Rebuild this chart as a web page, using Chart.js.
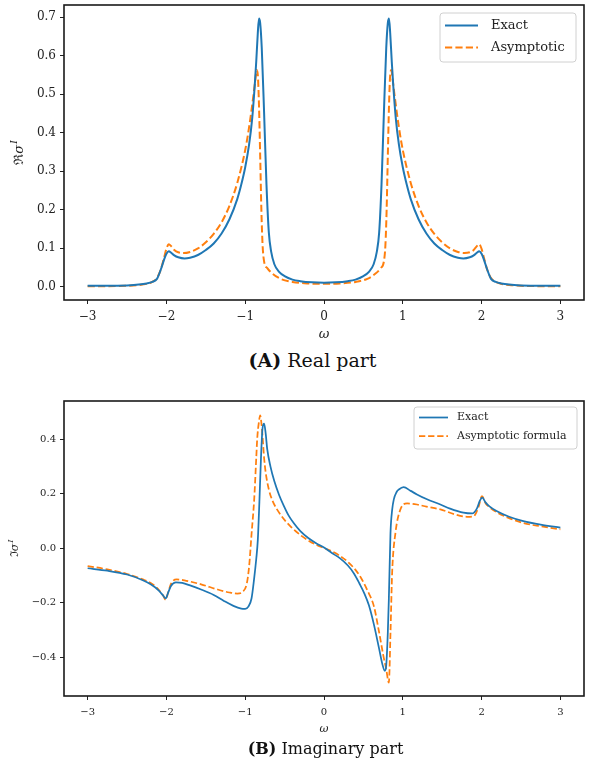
<!DOCTYPE html>
<html>
<head>
<meta charset="utf-8">
<script src="https://cdn.jsdelivr.net/npm/chart.js@4.4.1/dist/chart.umd.min.js"></script>
<style>
  body { margin: 0; background: #fff; width: 589px; height: 766px; position: relative; overflow: hidden; }
  .box { position: absolute; left: 0; width: 589px; }
  .cap { position: absolute; width: 589px; text-align: center; font-family: "DejaVu Serif", serif; color: #111; }
  .cap b { font-weight: bold; }
</style>
</head>
<body>
<div class="box" style="top:0; height:345px;"><canvas id="realChart"></canvas></div>
<div class="cap" style="top:349px; left:18px; font-size:19px;"><b>(A)</b> Real part</div>
<div class="box" style="top:396px; height:345px;"><canvas id="imagChart"></canvas></div>
<div class="cap" style="top:739px; left:31px; font-size:16px;"><b>(B)</b> Imaginary part</div>
<script>
// ---- data ----
const xTicks = [-3, -2, -1, 0, 1, 2, 3];
const realTicks = [0, 0.1, 0.2, 0.3, 0.4, 0.5, 0.6, 0.7];
const imagTicks = [-0.4, -0.2, 0, 0.2, 0.4];

// real part, exact
const realOmegaExact = [-3.0, -2.75, -2.5, -2.35, -2.25, -2.18, -2.12, -2.07, -2.03, -2.0, -1.97, -1.94, -1.9, -1.85, -1.77, -1.7, -1.6, -1.5, -1.4, -1.3, -1.2, -1.1, -1.05, -1.0, -0.95, -0.91, -0.88, -0.86, -0.84, -0.825, -0.81, -0.79, -0.76, -0.73, -0.70, -0.67, -0.63, -0.57, -0.5, -0.4, -0.3, -0.15, 0,
  0.15, 0.3, 0.4, 0.5, 0.57, 0.63, 0.67, 0.70, 0.73, 0.76, 0.79, 0.81, 0.825, 0.84, 0.86, 0.88, 0.91, 0.95, 1.0, 1.05, 1.1, 1.2, 1.3, 1.4, 1.5, 1.6, 1.7, 1.77, 1.85, 1.9, 1.94, 1.97, 2.0, 2.03, 2.07, 2.12, 2.18, 2.25, 2.35, 2.5, 2.75, 3.0];
const realExact = [0.002, 0.002, 0.003, 0.005, 0.008, 0.012, 0.02, 0.045, 0.07, 0.085, 0.092, 0.088, 0.081, 0.076, 0.073, 0.075, 0.082, 0.095, 0.112, 0.138, 0.175, 0.228, 0.265, 0.31, 0.37, 0.44, 0.52, 0.585, 0.66, 0.697, 0.685, 0.62, 0.45, 0.265, 0.14, 0.09, 0.058, 0.038, 0.027, 0.018, 0.014, 0.011, 0.010,
  0.011, 0.014, 0.018, 0.027, 0.038, 0.058, 0.09, 0.14, 0.265, 0.45, 0.62, 0.685, 0.697, 0.66, 0.585, 0.52, 0.44, 0.37, 0.31, 0.265, 0.228, 0.175, 0.138, 0.112, 0.095, 0.082, 0.075, 0.073, 0.076, 0.081, 0.088, 0.092, 0.085, 0.07, 0.045, 0.02, 0.012, 0.008, 0.005, 0.003, 0.002, 0.002];

// real part, asymptotic
const realOmegaAsym = [-3.0, -2.75, -2.5, -2.35, -2.25, -2.18, -2.12, -2.07, -2.03, -2.0, -1.97, -1.94, -1.9, -1.85, -1.78, -1.7, -1.6, -1.5, -1.4, -1.3, -1.2, -1.1, -1.0, -0.95, -0.9, -0.87, -0.855, -0.84, -0.825, -0.81, -0.795, -0.78, -0.76, -0.72, -0.65, -0.55, -0.4, -0.2, 0,
  0.2, 0.4, 0.55, 0.65, 0.72, 0.76, 0.78, 0.795, 0.81, 0.825, 0.84, 0.855, 0.87, 0.9, 0.95, 1.0, 1.1, 1.2, 1.3, 1.4, 1.5, 1.6, 1.7, 1.78, 1.85, 1.9, 1.94, 1.97, 2.0, 2.03, 2.07, 2.12, 2.18, 2.25, 2.35, 2.5, 2.75, 3.0];
const realAsym = [0.001, 0.001, 0.002, 0.004, 0.007, 0.012, 0.022, 0.045, 0.075, 0.098, 0.11, 0.105, 0.095, 0.089, 0.087, 0.09, 0.099, 0.115, 0.137, 0.167, 0.21, 0.27, 0.355, 0.415, 0.49, 0.54, 0.563, 0.55, 0.47, 0.34, 0.2, 0.11, 0.065, 0.048, 0.033, 0.02, 0.012, 0.008, 0.007,
  0.008, 0.012, 0.02, 0.033, 0.048, 0.065, 0.11, 0.2, 0.34, 0.47, 0.55, 0.563, 0.54, 0.49, 0.415, 0.355, 0.27, 0.21, 0.167, 0.137, 0.115, 0.099, 0.09, 0.087, 0.089, 0.095, 0.105, 0.11, 0.098, 0.075, 0.045, 0.022, 0.012, 0.007, 0.004, 0.002, 0.001, 0.001];

// imaginary part, exact
const imagOmegaExact = [-3.0, -2.75, -2.5, -2.3, -2.2, -2.1, -2.04, -2.01, -1.98, -1.94, -1.88, -1.8, -1.7, -1.56, -1.4, -1.27, -1.15, -1.05, -1.0, -0.96, -0.92, -0.89, -0.86, -0.84, -0.82, -0.80, -0.78, -0.76, -0.74, -0.72, -0.68, -0.63, -0.57, -0.51, -0.45, -0.38, -0.3, -0.2, -0.1, 0,
  0.1, 0.2, 0.3, 0.38, 0.45, 0.51, 0.57, 0.633, 0.70, 0.74, 0.772, 0.79, 0.81, 0.823, 0.844, 0.865, 0.886, 0.92, 0.95, 1.01, 1.1, 1.18, 1.3, 1.477, 1.6, 1.77, 1.88, 1.94, 1.98, 2.01, 2.05, 2.1, 2.19, 2.35, 2.53, 2.75, 3.0];
const imagExact = [-0.074, -0.083, -0.097, -0.118, -0.133, -0.155, -0.175, -0.185, -0.165, -0.138, -0.126, -0.128, -0.137, -0.152, -0.172, -0.194, -0.212, -0.222, -0.223, -0.215, -0.185, -0.12, -0.04, 0.03, 0.17, 0.33, 0.44, 0.457, 0.42, 0.362, 0.30, 0.245, 0.195, 0.155, 0.12, 0.09, 0.062, 0.037, 0.018, 0.002,
  -0.018, -0.037, -0.063, -0.093, -0.13, -0.165, -0.21, -0.28, -0.37, -0.425, -0.451, -0.43, -0.31, -0.188, 0.056, 0.14, 0.179, 0.205, 0.215, 0.224, 0.21, 0.197, 0.18, 0.16, 0.145, 0.13, 0.127, 0.145, 0.175, 0.185, 0.168, 0.153, 0.136, 0.115, 0.099, 0.086, 0.075];

// imaginary part, asymptotic formula
const imagOmegaAsym = [-3.0, -2.75, -2.5, -2.3, -2.19, -2.1, -2.04, -2.01, -1.98, -1.94, -1.87, -1.75, -1.56, -1.35, -1.2, -1.1, -1.03, -0.98, -0.95, -0.92, -0.886, -0.86, -0.848, -0.825, -0.81, -0.795, -0.78, -0.76, -0.74, -0.70, -0.655, -0.55, -0.42, -0.3, -0.2, -0.1, 0,
  0.1, 0.2, 0.3, 0.4, 0.465, 0.55, 0.633, 0.70, 0.75, 0.79, 0.823, 0.844, 0.865, 0.907, 0.97, 1.055, 1.18, 1.3, 1.477, 1.65, 1.815, 1.9, 1.96, 2.005, 2.05, 2.1, 2.19, 2.35, 2.53, 2.75, 3.0];
const imagAsym = [-0.066, -0.078, -0.095, -0.115, -0.13, -0.152, -0.175, -0.19, -0.165, -0.13, -0.115, -0.12, -0.133, -0.152, -0.163, -0.167, -0.16, -0.13, -0.066, 0.05, 0.179, 0.33, 0.40, 0.465, 0.487, 0.46, 0.41, 0.33, 0.277, 0.215, 0.175, 0.122, 0.078, 0.048, 0.028, 0.012, 0.0,
  -0.012, -0.028, -0.05, -0.08, -0.107, -0.155, -0.213, -0.31, -0.39, -0.445, -0.494, -0.31, -0.09, 0.056, 0.142, 0.164, 0.16, 0.152, 0.142, 0.125, 0.115, 0.117, 0.15, 0.191, 0.165, 0.15, 0.132, 0.11, 0.092, 0.08, 0.069];

const BLUE = '#1f77b4';
const ORANGE = '#ff7f0e';
const FONT = '"DejaVu Serif", serif';

function pts(xs, ys) {
  return xs.map((x, i) => ({ x: x, y: ys[i] }));
}

function fmtMinus(v, digits) {
  const s = Math.abs(v).toFixed(digits);
  return (v < -1e-9 ? '\u2212' : '') + s;
}

// frame, legend and axis titles
const decor = {
  id: 'decor',
  afterDraw(chart, args, o) {
    const ctx = chart.ctx;
    const a = chart.chartArea;
    ctx.save();

    // legend box
    const lw = o.legendW, lh = o.legendH;
    const lx = a.right - o.legendRight - lw;
    const ly = a.top + o.legendTop;
    ctx.beginPath();
    ctx.roundRect(lx, ly, lw, lh, 3);
    ctx.fillStyle = 'rgba(255,255,255,0.8)';
    ctx.fill();
    ctx.strokeStyle = '#d0d0d0';
    ctx.lineWidth = 1;
    ctx.stroke();
    chart.data.datasets.forEach((ds, i) => {
      const y = ly + o.rowFirst + i * o.rowGap;
      ctx.beginPath();
      ctx.setLineDash(ds.borderDash || []);
      ctx.strokeStyle = ds.borderColor;
      ctx.lineWidth = ds.borderWidth;
      ctx.moveTo(lx + 5, y);
      ctx.lineTo(lx + 5 + o.sampleW, y);
      ctx.stroke();
      ctx.setLineDash([]);
      ctx.fillStyle = '#222';
      ctx.font = o.legendSize + 'px ' + FONT;
      ctx.textBaseline = 'middle';
      ctx.textAlign = 'left';
      ctx.fillText(ds.label, lx + o.textOff, y);
    });

    // frame
    ctx.strokeStyle = '#1a1a1a';
    ctx.lineWidth = 1.6;
    ctx.strokeRect(a.left, a.top, a.right - a.left, a.bottom - a.top);

    // x title
    ctx.fillStyle = '#222';
    ctx.font = 'italic ' + o.titleSize + 'px ' + FONT;
    ctx.textAlign = 'center';
    ctx.textBaseline = 'middle';
    ctx.fillText('\u03c9', (a.left + a.right) / 2, o.xTitleY);

    // y title, rotated: symbol + sigma + superscript I
    ctx.translate(o.yTitleX, (a.top + a.bottom) / 2 + o.yTitleShift);
    ctx.rotate(-Math.PI / 2);
    ctx.textAlign = 'left';
    const f1 = o.titleSize + 'px ' + FONT;
    const f2 = 'italic ' + o.titleSize + 'px ' + FONT;
    const f3 = 'italic ' + Math.round(o.titleSize * 0.7) + 'px ' + FONT;
    ctx.font = f1; const w1 = ctx.measureText(o.yTitle).width;
    ctx.font = f2; const w2 = ctx.measureText('\u03c3').width;
    ctx.font = f3; const w3 = ctx.measureText('I').width;
    let x0 = -(w1 + w2 + w3 + 1) / 2;
    ctx.font = f1; ctx.fillText(o.yTitle, x0, 0);
    ctx.font = f2; ctx.fillText('\u03c3', x0 + w1, 0);
    ctx.font = f3; ctx.fillText('I', x0 + w1 + w2 + 1, -o.titleSize * 0.4);
    ctx.restore();
  }
};

function makeChart(id, cfg) {
  return new Chart(document.getElementById(id), {
    type: 'line',
    data: {
      datasets: [
        { label: 'Exact', data: pts(cfg.xe, cfg.ye), borderColor: BLUE, borderWidth: cfg.lw,
          pointRadius: 0, fill: false, cubicInterpolationMode: 'monotone' },
        { label: cfg.asymLabel, data: pts(cfg.xa, cfg.ya), borderColor: ORANGE, borderWidth: cfg.lw,
          borderDash: [cfg.lw * 3.6, cfg.lw * 1.6], pointRadius: 0, fill: false, cubicInterpolationMode: 'monotone' }
      ]
    },
    options: {
      responsive: true,
      maintainAspectRatio: false,
      animation: false,
      layout: { padding: { top: cfg.padTop, right: 5, left: 0, bottom: 0 } },
      plugins: {
        legend: { display: false },
        tooltip: { enabled: false },
        decor: cfg.decor
      },
      scales: {
        x: {
          type: 'linear', min: -3.3, max: 3.3,
          afterBuildTicks: s => { s.ticks = xTicks.map(v => ({ value: v })); },
          afterFit: s => { s.height = cfg.xAxisH; s.paddingLeft = 0; s.paddingRight = 0; },
          grid: { drawOnChartArea: false, drawTicks: true, tickLength: 4, color: '#222', lineWidth: 1 },
          border: { display: false },
          ticks: { padding: cfg.xPad, color: '#222', font: { family: FONT, size: cfg.tickSize },
                   maxRotation: 0, callback: v => fmtMinus(v, 0) }
        },
        y: {
          type: 'linear', min: cfg.ymin, max: cfg.ymax,
          afterBuildTicks: s => { s.ticks = cfg.yTicks.map(v => ({ value: v })); },
          afterFit: s => { s.width = 64; s.paddingTop = 0; s.paddingBottom = 0; },
          grid: { drawOnChartArea: false, drawTicks: true, tickLength: 4, color: '#222', lineWidth: 1 },
          border: { display: false },
          ticks: { padding: 4, color: '#222', font: { family: FONT, size: cfg.tickSize },
                   callback: v => fmtMinus(v, 1) }
        }
      }
    },
    plugins: [decor]
  });
}

makeChart('realChart', {
  xe: realOmegaExact, ye: realExact, xa: realOmegaAsym, ya: realAsym,
  asymLabel: 'Asymptotic', lw: 2, padTop: 5, xAxisH: 45, xPad: 6, tickSize: 12,
  ymin: -0.035, ymax: 0.732, yTicks: realTicks,
  decor: { legendW: 136, legendH: 49, legendRight: 8, legendTop: 8, rowFirst: 12.5, rowGap: 22,
           sampleW: 33, textOff: 51, legendSize: 13, titleSize: 13, xTitleY: 335,
           yTitleX: 20, yTitleShift: 0, yTitle: '\u211c' }
});

makeChart('imagChart', {
  xe: imagOmegaExact, ye: imagExact, xa: imagOmegaAsym, ya: imagAsym,
  asymLabel: 'Asymptotic formula', lw: 1.75, padTop: 5, xAxisH: 45, xPad: 6, tickSize: 10,
  ymin: -0.543, ymax: 0.540, yTicks: imagTicks,
  decor: { legendW: 163, legendH: 42, legendRight: 7, legendTop: 6, rowFirst: 10.5, rowGap: 18.6,
           sampleW: 29, textOff: 43, legendSize: 11, titleSize: 11, xTitleY: 333,
           yTitleX: 15, yTitleShift: 0, yTitle: '\u2111' }
});
</script>
</body>
</html>
